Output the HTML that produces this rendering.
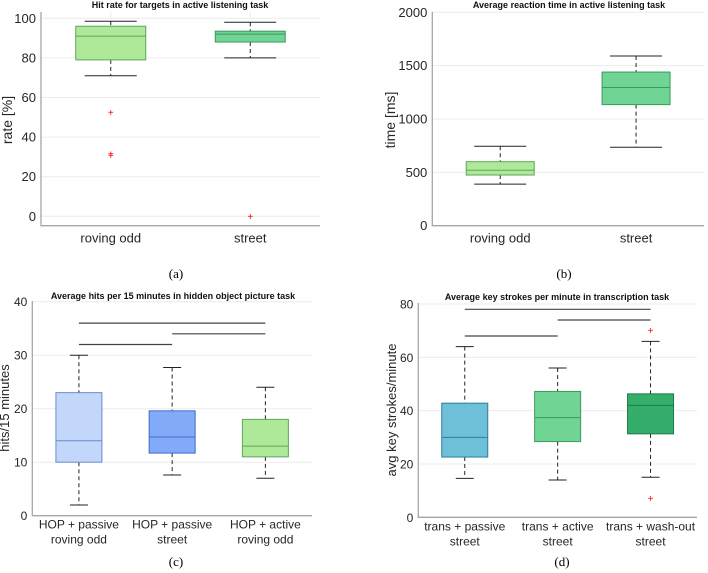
<!DOCTYPE html>
<html><head><meta charset="utf-8"><style>
body{margin:0;background:#fff;width:708px;height:573px;overflow:hidden}
svg{display:block}
text{font-family:"Liberation Sans",sans-serif;fill:#262626}
.cap{font-family:"Liberation Serif",serif;font-size:13px;fill:#000}
</style></head><body>
<svg id="fig" width="708" height="573" viewBox="0 0 708 573"></svg>
<script>
// Panel a
const aCats=["roving odd","street"];
const aQ1=[79,88], aMed=[91,92], aQ3=[96,93.5], aLo=[71,80], aHi=[98.5,98];
const aOut=[[52.5,31.5,30.8],[0]];
const aTicks=[0,20,40,60,80,100];
// Panel b
const bCats=["roving odd","street"];
const bQ1=[475,1135], bMed=[520,1295], bQ3=[600,1440], bLo=[390,735], bHi=[745,1590];
const bOut=[[],[]];
const bTicks=[0,500,1000,1500,2000];
// Panel c
const cCats=[["HOP + passive","roving odd"],["HOP + passive","street"],["HOP + active","roving odd"]];
const cQ1=[10,11.7,11], cMed=[14,14.7,13], cQ3=[23,19.6,18], cLo=[2,7.6,7], cHi=[30,27.7,24];
const cOut=[[],[],[]];
const cTicks=[0,10,20,30,40];
const cBrackets=[[0,1,32],[1,2,34],[0,2,36]];
// Panel d
const dCats=[["trans + passive","street"],["trans + active","street"],["trans + wash-out","street"]];
const dQ1=[22.6,28.4,31.3], dMed=[30,37.4,42], dQ3=[42.8,47.2,46.3], dLo=[14.6,14,15], dHi=[64,56,66];
const dOut=[[],[],[70,7]];
const dTicks=[0,20,40,60,80];
const dBrackets=[[0,1,68],[1,2,74],[0,2,78]];

const NS="http://www.w3.org/2000/svg";
const svg=document.getElementById('fig');
function mk(tag,attrs,parent,txt){const e=document.createElementNS(NS,tag);for(const k in attrs)e.setAttribute(k,attrs[k]);if(txt!==undefined)e.textContent=txt;(parent||svg).appendChild(e);return e;}

function panel(p){
  const g=mk('g',{});
  
  
  const ys=v=>p.y0+(v-p.ymin)/(p.ymax-p.ymin)*(p.y1-p.y0);
  const n=p.cats.length;
  const xs=i=>p.xl+(i+0.5)*(p.xr-p.xl)/n;
  // grid
  p.ticks.forEach(t=>{
    const gl=mk('line',{x1:p.xl,x2:p.xr,y1:ys(t),y2:ys(t),stroke:'#ececec','stroke-width':1},g);
    
    
    const tl=mk('text',{x:p.xl-5,y:ys(t)+4.5,'text-anchor':'end','font-size':p.fs},g,String(t));
    
    
  });
  for(let i=0;i<n;i++){
    const vl=mk('line',{x1:xs(i),x2:xs(i),y1:p.y1,y2:p.ytop,stroke:'#ececec'},g);
    
    
  }
  // axes
  const ax=mk('path',{d:`M${p.xl},${p.ytop}V${p.yb}H${p.xr}`,fill:'none',stroke:'#a6a6a6','stroke-width':1.3},g);
  
  
  for(let i=0;i<n;i++){
    const x=xs(i), c=p.colors[i];
    const w1=mk('line',{x1:x,x2:x,y1:ys(p.hi[i]),y2:ys(p.q3[i]),stroke:'#222','stroke-dasharray':'4,3'},g);
    
    
    const w2=mk('line',{x1:x,x2:x,y1:ys(p.q1[i]),y2:ys(p.lo[i]),stroke:'#222','stroke-dasharray':'4,3'},g);
    
    
    [p.hi[i],p.lo[i]].forEach(v=>{
      const cp=mk('line',{x1:x-p.cw/2,x2:x+p.cw/2,y1:ys(v),y2:ys(v),stroke:'#222','stroke-width':1},g);
      
      
    });
    const b=mk('rect',{x:x-p.bw/2,y:ys(p.q3[i]),width:p.bw,height:ys(p.q1[i])-ys(p.q3[i]),fill:c[0],stroke:c[1],'stroke-width':1},g);
    
    
    const m=mk('line',{x1:x-p.bw/2,x2:x+p.bw/2,y1:ys(p.med[i]),y2:ys(p.med[i]),stroke:c[1],'stroke-width':1},g);
    
    
    p.out[i].forEach(v=>{
      const o=mk('text',{x:x,y:ys(v)+3.5,'text-anchor':'middle','font-size':10,style:'fill:#ff0000'},g,'+');
      
      
    });
    const lab=Array.isArray(p.cats[i])?p.cats[i]:[p.cats[i]];
    lab.forEach((s,k)=>{
      const t=mk('text',{x:x,y:p.yb+p.ly+k*15,'text-anchor':'middle','font-size':p.fs},g,s);
      
      
    });
  }
  (p.brackets||[]).forEach(br=>{
    const y=ys(br[2]);
    const l=mk('line',{x1:xs(br[0]),x2:xs(br[1]),y1:y,y2:y,stroke:'#444','stroke-width':1.2},g);
    
    
  });
  const tt=mk('text',{x:p.tx,y:p.ty,'text-anchor':'middle','font-size':9,'font-weight':'bold',style:'fill:#111'},g,p.title);
  
  
  const yl=mk('text',{x:0,y:0,'text-anchor':'middle','font-size':p.yfs,transform:`translate(${p.ylx},${p.yly}) rotate(-90)`},g,p.ylabel);
  
  
  const cp=mk('text',{x:p.capx,y:p.capy,'text-anchor':'middle',class:'cap'},g,p.cap);
  
  
}
const lg=['#aee99a','#5fa55a'], sg=['#6fd494','#3a9a5f'];
panel({name:'panel-a',cats:aCats,q1:aQ1,med:aMed,q3:aQ3,lo:aLo,hi:aHi,out:aOut,ticks:aTicks,ymin:0,ymax:100,y0:216.3,y1:18.3,ytop:12,yb:225.7,
 xl:41,xr:320,bw:70,cw:52,fs:13,ly:17,colors:[lg,sg],title:'Hit rate for targets in active listening task',tx:180,ty:8,
 ylabel:'rate [%]',ylx:12,yly:120,yfs:14,cap:'(a)',capx:176,capy:278});
panel({name:'panel-b',cats:bCats,q1:bQ1,med:bMed,q3:bQ3,lo:bLo,hi:bHi,out:bOut,ticks:bTicks,ymin:0,ymax:2000,y0:225.7,y1:12.3,ytop:12,yb:225.7,
 xl:432.3,xr:704,bw:68,cw:52,fs:13,ly:17,colors:[lg,sg],title:'Average reaction time in active listening task',tx:569,ty:8,
 ylabel:'time [ms]',ylx:395,yly:120,yfs:14,cap:'(b)',capx:564,capy:278});
panel({name:'panel-c',cats:cCats,q1:cQ1,med:cMed,q3:cQ3,lo:cLo,hi:cHi,out:cOut,ticks:cTicks,ymin:0,ymax:40,y0:515.7,y1:301.7,ytop:301,yb:515.7,
 xl:32.3,xr:312,bw:46,cw:18,fs:12,ly:13,colors:[['#c3d7fb','#6d8ac9'],['#82aaf8','#3f6cc8'],lg],title:'Average hits per 15 minutes in hidden object picture task',tx:173,ty:299,
 brackets:cBrackets,ylabel:'hits/15 minutes',ylx:9,yly:408,yfs:13,cap:'(c)',capx:176,capy:566});
panel({name:'panel-d',cats:dCats,q1:dQ1,med:dMed,q3:dQ3,lo:dLo,hi:dHi,out:dOut,ticks:dTicks,ymin:0,ymax:80,y0:517.3,y1:304,ytop:303,yb:517.3,
 xl:418.3,xr:697,bw:46,cw:18,fs:12,ly:13,colors:[['#6ec0d8','#2f7f9a'],sg,['#34ae6a','#1d7a44']],title:'Average key strokes per minute in transcription task',tx:557,ty:300,
 brackets:dBrackets,ylabel:'avg key strokes/minute',ylx:396,yly:410,yfs:13,cap:'(d)',capx:562,capy:566});
</script>
</body></html>
